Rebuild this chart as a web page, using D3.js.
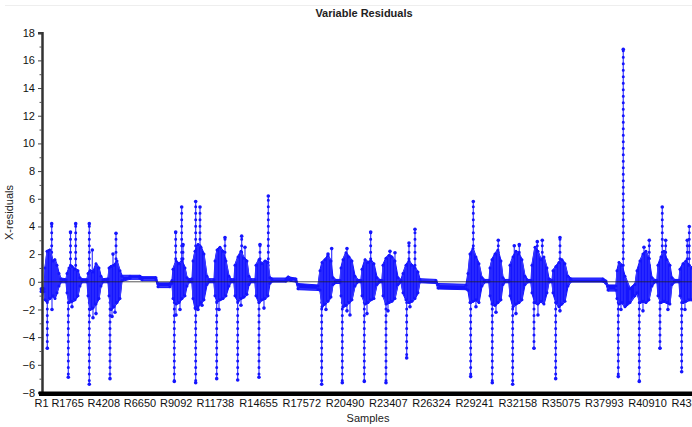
<!DOCTYPE html>
<html><head><meta charset="utf-8">
<script src="https://cdn.jsdelivr.net/npm/d3@7"></script>
<style>body{margin:0;background:#fff;overflow:hidden} text{font-family:Arial,"Liberation Sans",sans-serif}</style>
</head><body><svg id="c" width="692" height="427"></svg>
<script>
// ---- data ----
const envSample=[1,204,271,406,608,811,946,1081,1216,1351,1689,1756,1891,2093,2296,2498,2633,2768,3106,3173,3308,3511,3713,3916,4051,4186,4523,4591,4726,4928,5131,5333,5468,6008,6683,6818,7763,7898,8708,8843,8911,9113,9316,9518,9721,9856,9991,10193,10261,10396,10598,10801,11003,11206,11341,11678,11746,11881,12083,12286,12488,12691,12826,13028,13096,13298,13501,13703,13906,14041,14176,14446,14513,14716,14918,15121,15323,15458,15593,16538,16673,16876,17213,17348,18698,18833,18968,19171,19373,19576,19711,19913,20183,20251,20386,20588,20791,20993,21196,21398,21601,21668,21871,22073,22276,22478,22681,22883,23018,23086,23288,23491,23693,23896,24098,24301,24436,24638,24841,25043,25246,25448,25583,26663,26798,28688,28823,28958,29161,29363,29566,29768,29971,30241,30308,30443,30646,30848,31051,31186,31321,31591,31658,31861,32063,32266,32468,32671,32873,33076,33143,33346,33548,33751,33953,34156,34291,34493,34561,34763,34966,35168,35371,35573,35776,37936,38139,38274,38813,38881,39016,39218,39421,39758,40096,40231,40433,40636,40838,41041,41243,41446,41581,41648,41851,42053,42256,42458,42593,42796,43066,43133,43336,43538,43741,43943];
const envLow=[-0.7,-0.7,-1.3,-1.4,-1.2,-1.0,-1.2,-0.8,-0.3,0.0,0.0,-0.8,-1.5,-1.4,-1.3,-1.0,-0.3,0.0,0.0,-1.0,-2.0,-1.9,-1.6,-1.2,-0.3,0.0,0.0,-1.0,-2.0,-1.8,-1.5,-1.2,0.1,0.25,0.25,0.15,0.15,-0.35,-0.35,-0.1,-1.2,-1.6,-1.5,-1.2,-1.0,-0.3,0.0,0.0,-1.2,-1.9,-1.8,-1.5,-1.3,-0.2,0.0,0.0,-1.0,-1.4,-1.3,-1.2,-1.0,-0.3,0.0,0.0,-1.0,-1.4,-1.2,-1.1,-0.9,-0.2,0.0,0.0,-1.0,-1.5,-1.3,-1.2,-1.0,-0.1,0.05,0.05,0.15,0.1,0.05,-0.5,-0.55,-0.6,-1.8,-1.6,-1.4,-1.1,-0.2,-0.05,-0.05,-1.0,-1.8,-1.7,-1.5,-1.3,-0.3,0.0,0.0,-1.0,-1.6,-1.5,-1.3,-1.2,-0.2,0.0,0.0,-1.0,-1.6,-1.5,-1.4,-1.2,-0.2,0.0,-0.8,-1.3,-1.5,-1.4,-1.2,-0.8,0.0,-0.05,-0.45,-0.5,-0.6,-1.5,-1.4,-1.3,-1.5,-0.3,0.0,0.0,-1.0,-1.6,-1.7,-1.5,-1.3,-0.2,0.0,0.0,-1.0,-1.8,-1.6,-1.5,-1.3,-0.2,0.0,0.0,-0.8,-1.5,-1.6,-1.4,-1.6,-0.8,0.0,0.0,-0.8,-1.5,-1.8,-1.6,-1.4,-0.3,0.05,0.05,-0.1,-0.6,-0.6,-1.2,-1.6,-1.5,-1.8,-1.5,-1.0,-0.8,-1.5,-1.4,-1.5,-1.3,-0.3,0.0,0.0,-1.0,-1.5,-1.4,-1.5,-1.6,-0.2,0.0,0.0,-1.0,-1.5,-1.4,-1.3,-1.3];
const envHigh=[-0.5,-0.5,1.0,2.2,2.3,1.5,1.6,1.2,0.6,0.2,0.15,0.6,1.0,1.1,0.9,0.8,0.3,0.15,0.15,0.6,0.8,0.7,1.3,1.0,0.4,0.15,0.2,1.0,1.1,1.2,1.5,0.8,0.4,0.4,0.4,0.3,0.3,-0.15,-0.15,0.1,0.9,1.5,1.3,1.5,1.0,0.3,0.15,0.2,1.5,2.2,2.7,2.5,2.0,0.4,0.15,0.15,1.5,2.3,2.5,2.2,1.5,0.4,0.15,0.15,1.2,1.8,2.2,1.7,1.5,0.4,0.15,0.15,1.2,1.6,1.3,1.5,1.4,0.3,0.2,0.2,0.35,0.25,0.2,-0.2,-0.3,0.8,1.4,1.6,1.9,1.5,0.3,0.1,0.1,1.0,1.6,2.1,1.8,1.5,0.4,0.1,0.1,0.9,1.6,1.4,1.5,1.3,0.3,0.1,0.1,1.2,1.7,1.9,1.8,1.5,0.3,0.1,0.6,1.2,1.5,1.2,1.0,0.7,0.15,0.1,-0.2,-0.25,0.6,2.0,2.4,1.8,1.3,0.3,0.1,0.1,1.0,1.6,2.0,2.3,1.5,0.3,0.1,0.1,1.2,1.8,2.2,2.0,1.6,0.4,0.1,0.1,1.2,2.5,2.2,1.6,1.8,1.0,0.2,0.1,0.8,1.1,1.4,1.6,1.3,0.4,0.2,0.2,0.05,-0.3,-0.3,0.8,1.4,1.2,0.4,-0.5,-0.2,0.8,1.5,2.0,2.2,1.7,0.3,0.1,0.1,1.2,1.8,2.2,1.6,1.2,0.3,0.1,0.1,0.9,1.3,1.5,1.2,1.0];
const spikeSample=[723,1992,2343,3261,3464,4861,5064,9093,9498,9586,10443,10734,12421,13548,13771,14784,15344,19374,19623,20656,22256,23559,23896,24841,25246,29183,30869,31949,32286,33502,33839,35034,39306,40704,41061,41939,42169,43627,43762,
  426,1844,3261,4659,8999,10443,11861,13278,14716,18948,20339,21824,23289,24686,29006,30464,31841,33279,34744,38969,40386,41784,43248,
  743,2093,3511,3713,4794,4996,9113,9383,10598,10869,12016,13501,15053,19238,20656,20858,22006,23424,24908,29363,30713,32063,33548,35034,39151,40636,42321,43471];
const spikeValue=[4.2,3.6,4.2,4.2,2.3,2.0,3.5,3.6,5.4,2.7,5.8,5.4,3.2,3.3,2.5,2.7,6.2,2.0,2.4,2.4,3.6,2.2,2.1,2.8,3.8,5.8,3.0,2.6,2.7,2.9,3.0,3.2,16.8,2.5,3.0,5.4,3.0,3.0,4.0,
  -4.8,-6.9,-7.4,-7.0,-7.2,-7.3,-7.0,-7.1,-6.9,-7.4,-7.3,-7.2,-7.3,-5.5,-6.85,-7.3,-7.4,-4.8,-7.0,-6.85,-7.2,-4.8,-6.5,
  -2.0,-1.8,-2.6,-2.3,-2.5,-2.2,-2.4,-2.0,-2.0,-1.7,-2.0,-1.7,-1.9,-2.0,-2.1,-2.4,-2.3,-2.1,-1.8,-1.8,-2.2,-2.3,-2.4,-2.1,-2.0,-2.1,-2.0,-2.0];
const tickSamples=[1,1765,4208,6650,9092,11738,14655,17572,20490,23407,26324,29241,32158,35075,37993,40910,43827];
const tickLabels=["R1","R1765","R4208","R6650","R9092","R11738","R14655","R17572","R20490","R23407","R26324","R29241","R32158","R35075","R37993","R40910","R43827"];
const yMajor=[-8,-6,-4,-2,0,2,4,6,8,10,12,14,16,18];
const yMinor=[-7,-5,-3,-1,1,3,5,7,9,11,13,15,17];

// ---- drawing ----
const svg=d3.select("#c");
const x=d3.scaleLinear().domain([1,43946]).range([41,692]);
const y=d3.scaleLinear().domain([-8,18]).range([392.5,32.7]);

svg.append("line").attr("x1",5).attr("x2",692).attr("y1",5.5).attr("y2",5.5).attr("stroke","#eeeeee");

svg.append("text").attr("x",364).attr("y",17).attr("text-anchor","middle")
  .attr("font-size",11).attr("font-weight","bold").attr("fill","#222").text("Variable Residuals");

const env=envSample.map((s,i)=>({s,lo:envLow[i],hi:envHigh[i]}));
const g=svg.append("g");
const blue="#1515ff";

// spikes
const spikes=spikeSample.map((s,i)=>({s,v:spikeValue[i]}));
g.selectAll("line.sp").data(spikes).join("line").attr("class","sp")
  .attr("x1",d=>x(d.s)).attr("x2",d=>x(d.s)).attr("y1",y(0)).attr("y2",d=>y(d.v))
  .attr("stroke","#3c3cff").attr("stroke-width",1.2);
g.selectAll("line.spd").data(spikes.filter(d=>Math.abs(d.v)>2.6)).join("line").attr("class","spd")
  .attr("x1",d=>x(d.s)).attr("x2",d=>x(d.s)).attr("y1",d=>y(d.v>0?1.2:-1.5)).attr("y2",d=>y(d.v))
  .attr("stroke",blue).attr("stroke-width",3).attr("stroke-linecap","round").attr("stroke-dasharray","0,6.5");
g.selectAll("circle.sp").data(spikes).join("circle").attr("class","sp")
  .attr("cx",d=>x(d.s)).attr("cy",d=>y(d.v)).attr("r",1.8).attr("fill",blue);

// dense envelope
const area=d3.area().x(d=>x(d.s)).y0(d=>y(d.lo)+1).y1(d=>y(d.hi)-1).curve(d3.curveLinear);
g.append("path").datum(env).attr("d",area).attr("fill",blue).attr("stroke",blue).attr("stroke-width",1);
const zz=[];env.forEach((d,i)=>{ if(i%2){zz.push({s:d.s,v:d.hi});zz.push({s:d.s,v:d.lo});} else {zz.push({s:d.s,v:d.lo});zz.push({s:d.s,v:d.hi});}});
g.append("path").datum(zz).attr("d",d3.line().x(d=>x(d.s)).y(d=>y(d.v))).attr("fill","none").attr("stroke","#3c3cff").attr("stroke-width",1);
g.selectAll("circle.e").data(zz).join("circle").attr("class","e").attr("cx",d=>x(d.s)).attr("cy",d=>y(d.v)).attr("r",1.5).attr("fill",blue);

// zero line
svg.append("line").attr("x1",41).attr("x2",692).attr("y1",y(0)).attr("y2",y(0)).attr("stroke","#222").attr("stroke-width",1).attr("opacity",0.75);

// y axis
const ya=svg.append("g").attr("transform","translate(42,0)")
  .call(d3.axisLeft(y).tickValues(yMajor).tickSize(4).tickPadding(3).tickFormat(d3.format("d")));
ya.select(".domain").attr("stroke","#333").attr("stroke-width",2.5);
ya.selectAll(".tick line").attr("stroke","#444");
ya.selectAll("text").attr("font-size",11).attr("fill","#111").attr("font-family","Arial, Liberation Sans, sans-serif");
const ym=svg.append("g").attr("transform","translate(42,0)").call(d3.axisLeft(y).tickValues(yMinor).tickSize(2.5).tickFormat(""));
ym.select(".domain").remove();ym.selectAll(".tick line").attr("stroke","#555");

// x axis
const xa=svg.append("g").attr("transform","translate(0,393.5)")
  .call(d3.axisBottom(x).tickValues(tickSamples).tickSize(0).tickPadding(6).tickFormat((d,i)=>tickLabels[i]));
xa.select(".domain").remove();
xa.selectAll("text").attr("font-size",11).attr("fill","#111").attr("font-family","Arial, Liberation Sans, sans-serif");
svg.append("line").attr("x1",39).attr("x2",692).attr("y1",393.7).attr("y2",393.7).attr("stroke","#000").attr("stroke-width",4.5);

svg.append("text").attr("x",368).attr("y",421.5).attr("text-anchor","middle").attr("font-size",11).attr("fill","#222").text("Samples");
svg.append("text").attr("transform","translate(13,212.5) rotate(-90)").attr("text-anchor","middle").attr("font-size",11).attr("fill","#222").text("X-residuals");
</script></body></html>
